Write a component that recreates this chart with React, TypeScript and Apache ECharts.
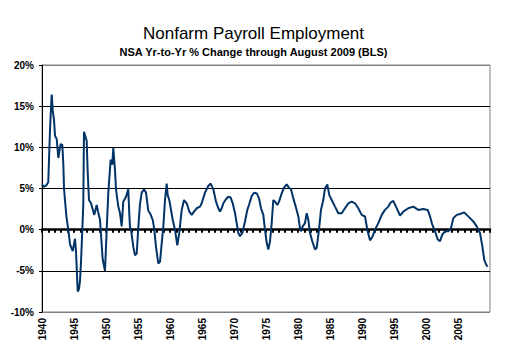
import React, { useEffect, useRef } from "react";
import * as echarts from "echarts";

const TITLE = "Nonfarm Payroll Employment";
const SUBTITLE = "NSA Yr-to-Yr % Change through August 2009 (BLS)";

const years = [
  1940.0, 1940.31, 1940.7, 1940.98, 1941.25, 1941.41, 1941.52, 1941.67, 1941.88, 1942.03,
  1942.3, 1942.55, 1942.7, 1942.92, 1943.17, 1943.33, 1943.44, 1943.59, 1943.83, 1944.11,
  1944.38, 1944.8, 1945.16, 1945.31, 1945.58, 1945.78, 1945.94, 1946.09, 1946.3, 1946.45,
  1946.56, 1946.83, 1946.98, 1947.14, 1947.34, 1947.66, 1948.02, 1948.17, 1948.55, 1948.75,
  1949.06, 1949.48, 1949.84, 1950.11, 1950.36, 1950.73, 1950.98, 1951.14, 1951.41, 1951.56,
  1951.92, 1952.19, 1952.45, 1952.7, 1953.13, 1953.48, 1953.64, 1953.75, 1953.91, 1954.27,
  1954.53, 1954.8, 1955.05, 1955.31, 1955.58, 1955.94, 1956.25, 1956.61, 1956.88, 1957.3,
  1957.55, 1957.81, 1958.17, 1958.44, 1958.7, 1958.95, 1959.22, 1959.48, 1959.64, 1959.89,
  1960.42, 1960.78, 1961.14, 1961.45, 1961.83, 1962.19, 1962.61, 1963.02, 1963.39, 1963.75,
  1964.17, 1964.69, 1964.95, 1965.47, 1965.98, 1966.36, 1966.77, 1967.19, 1967.55, 1967.81,
  1968.08, 1968.33, 1968.75, 1969.11, 1969.48, 1969.8, 1970.16, 1970.42, 1970.67, 1970.94,
  1971.3, 1971.72, 1972.08, 1972.34, 1972.77, 1973.17, 1973.55, 1973.91, 1974.22, 1974.58,
  1974.84, 1975.11, 1975.36, 1975.63, 1975.89, 1976.14, 1976.41, 1976.77, 1977.03, 1977.45,
  1977.81, 1978.23, 1978.59, 1978.91, 1979.27, 1979.64, 1980.05, 1980.31, 1980.47, 1980.73,
  1981.09, 1981.36, 1981.61, 1981.88, 1982.23, 1982.66, 1982.92, 1983.28, 1983.59, 1983.95,
  1984.22, 1984.58, 1984.89, 1985.27, 1985.78, 1986.3, 1986.83, 1987.34, 1987.86, 1988.39,
  1988.91, 1989.42, 1989.95, 1990.47, 1990.83, 1991.25, 1991.67, 1992.03, 1992.55, 1993.08,
  1993.59, 1994.11, 1994.48, 1994.89, 1995.31, 1995.67, 1995.94, 1996.45, 1997.23, 1998.02,
  1998.8, 1999.58, 2000.27, 2000.63, 2000.98, 2001.41, 2001.83, 2002.19, 2002.55, 2002.97,
  2003.48, 2003.91, 2004.27, 2004.8, 2005.31, 2005.98, 2006.36, 2006.88, 2007.39, 2007.92,
  2008.44, 2008.8, 2009.11, 2009.33, 2009.58,
];

const changePct = [
  5.5, 5.2, 5.4, 5.8, 12.1, 14.8, 16.4, 14.5, 13.3, 11.4,
  11.0, 8.7, 9.5, 10.4, 10.3, 8.0, 5.0, 3.6, 1.5, 0.0,
  -1.8, -2.6, -1.1, -2.6, -7.5, -7.2, -6.2, -4.0, 0.0, 3.0,
  11.9, 11.2, 10.8, 7.0, 3.6, 3.2, 2.2, 1.8, 3.0, 2.2,
  1.2, -3.6, -5.0, 0.0, 4.5, 8.5, 7.9, 9.9, 7.2, 4.9,
  2.8, 2.0, 0.4, 3.4, 4.0, 4.9, 1.9, 0.3, 0.0, -2.1,
  -3.1, -2.9, 0.3, 3.1, 4.5, 4.9, 4.5, 2.3, 2.0, 1.2,
  0.0, -2.1, -4.1, -3.9, -1.7, 0.3, 3.6, 5.6, 4.2, 3.6,
  1.2, 0.0, -1.9, -0.4, 2.4, 3.6, 3.2, 2.2, 1.8, 2.2,
  2.6, 2.8, 3.2, 4.5, 5.3, 5.6, 4.9, 3.4, 2.6, 2.2,
  2.6, 3.2, 3.7, 4.0, 3.9, 3.2, 2.0, 0.8, -0.4, -0.8,
  -0.4, 1.0, 2.4, 3.0, 4.1, 4.5, 4.4, 3.8, 2.6, 1.8,
  0.0, -1.6, -2.4, -1.4, 0.8, 3.6, 3.4, 3.0, 3.4, 4.4,
  5.1, 5.5, 5.1, 4.9, 3.8, 2.8, 1.6, 0.2, -0.2, 0.4,
  0.8, 2.0, 1.2, -0.4, -1.4, -2.4, -2.2, 0.0, 2.4, 3.6,
  5.0, 5.5, 4.2, 3.6, 2.8, 2.0, 2.0, 2.6, 3.2, 3.4,
  3.2, 2.6, 1.8, 1.6, 0.0, -1.3, -0.8, 0.0, 0.8, 1.8,
  2.4, 2.8, 3.3, 3.5, 2.8, 2.2, 1.7, 2.2, 2.6, 2.8,
  2.4, 2.5, 2.4, 1.6, 0.6, -0.2, -1.2, -1.4, -0.6, -0.2,
  -0.2, 0.2, 1.4, 1.8, 1.9, 2.1, 1.8, 1.4, 1.0, 0.4,
  -0.4, -2.0, -3.7, -4.1, -4.5,
];

const yTicks = { min: -10, max: 20, step: 5 };
const xRange = { min: 1940, max: 2010, labelStep: 5, tickStep: 1 };

const FONT = "'Liberation Sans', Arial, sans-serif";

export default function App() {
  const ref = useRef<HTMLDivElement>(null);

  useEffect(() => {
    document.body.style.margin = "0";
    if (!ref.current) return;
    const chart = echarts.init(ref.current, null, { renderer: "svg" });
    const data = years.map((y, i) => [y, changePct[i]]);
    chart.setOption({
      animation: false,
      backgroundColor: "#ffffff",
      title: [
        {
          text: TITLE,
          left: "center",
          top: 20,
          textStyle: { fontFamily: FONT, fontSize: 17, fontWeight: "normal", color: "#000" },
        },
        {
          text: SUBTITLE,
          left: "center",
          top: 41,
          textStyle: { fontFamily: FONT, fontSize: 11, fontWeight: "bold", color: "#000" },
        },
      ],
      grid: {
        left: 42,
        right: 17,
        top: 65,
        bottom: 46,
        show: true,
        borderColor: "#808080",
        borderWidth: 1,
        backgroundColor: "#ffffff",
      },
      xAxis: [
        {
          type: "value",
          min: xRange.min,
          max: xRange.max,
          interval: xRange.labelStep,
          position: "bottom",
          axisLine: { show: false, onZero: false },
          axisTick: { show: false },
          splitLine: { show: false },
          axisLabel: {
            rotate: 90,
            margin: 6,
            showMaxLabel: false,
            fontFamily: FONT,
            fontSize: 10,
            fontWeight: "bold",
            color: "#000",
            formatter: (v: number) => String(Math.round(v)),
          },
        },
        {
          type: "value",
          min: xRange.min,
          max: xRange.max,
          interval: xRange.tickStep,
          position: "bottom",
          axisLine: { show: true, onZero: true, onZeroAxisIndex: 0, lineStyle: { color: "#000", width: 2.5 } },
          axisTick: { show: true, length: 3, lineStyle: { color: "#000", width: 2 } },
          axisLabel: { show: false },
          splitLine: { show: false },
        },
      ],
      yAxis: {
        type: "value",
        min: yTicks.min,
        max: yTicks.max,
        interval: yTicks.step,
        axisLine: { show: true, lineStyle: { color: "#000", width: 1 } },
        axisTick: { show: true, length: 3, lineStyle: { color: "#000" } },
        splitLine: {
          show: true,
          lineStyle: {
            color: ["#808080", "#000", "#000", "#000", "#000", "#000", "#808080"],
            width: 1,
          },
        },
        axisLabel: {
          margin: 8,
          fontFamily: FONT,
          fontSize: 10,
          fontWeight: "bold",
          color: "#000",
          formatter: "{value}%",
        },
      },
      series: [
        {
          type: "line",
          xAxisIndex: 0,
          data,
          showSymbol: false,
          symbol: "none",
          lineStyle: { color: "#003366", width: 2 },
          z: 3,
        },
      ],
    });
    return () => chart.dispose();
  }, []);

  return (
    <div
      ref={ref}
      style={{ position: "absolute", left: 0, top: 0, width: 507, height: 358, background: "#fff" }}
    />
  );
}
